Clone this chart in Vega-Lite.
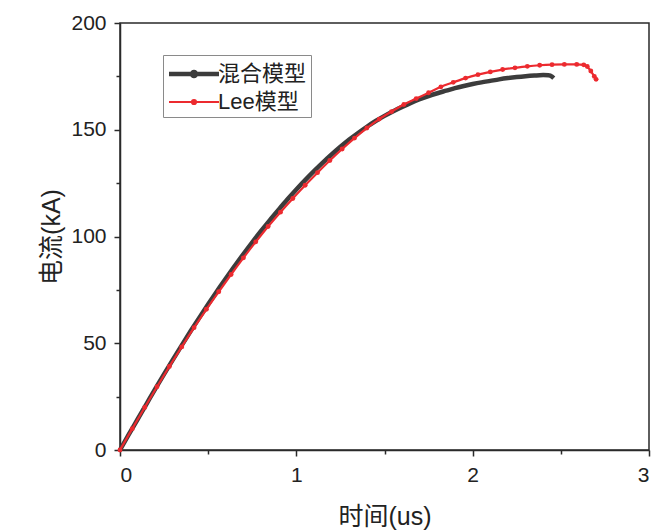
{
  "$schema": "https://vega.github.io/schema/vega-lite/v6.json",
  "width": 529,
  "height": 427,
  "autosize": {"type": "none"},
  "padding": {"left": 120, "top": 23, "right": 10, "bottom": 81},
  "background": "white",
  "config": {
    "font": "Liberation Sans, Noto Sans CJK SC",
    "view": {"stroke": "#2a2a2a", "strokeWidth": 1.5},
    "axis": {
      "domainColor": "#2a2a2a",
      "domainWidth": 1.5,
      "tickColor": "#2a2a2a",
      "tickWidth": 1.5,
      "grid": false,
      "labelFont": "Liberation Sans",
      "labelFontSize": 21,
      "labelColor": "#222222",
      "titleFont": "Liberation Sans, Noto Sans CJK SC",
      "titleFontSize": 25,
      "titleFontWeight": "normal",
      "titleColor": "#222222"
    }
  },
  "data": {
    "values": [
      {"t": 0, "I": 0, "model": "混合模型"},
      {"t": 0.05, "I": 7.3, "model": "混合模型"},
      {"t": 0.1, "I": 14.4, "model": "混合模型"},
      {"t": 0.15, "I": 21.5, "model": "混合模型"},
      {"t": 0.2, "I": 28.6, "model": "混合模型"},
      {"t": 0.25, "I": 35.5, "model": "混合模型"},
      {"t": 0.3, "I": 42.3, "model": "混合模型"},
      {"t": 0.35, "I": 49.0, "model": "混合模型"},
      {"t": 0.4, "I": 55.6, "model": "混合模型"},
      {"t": 0.45, "I": 62.0, "model": "混合模型"},
      {"t": 0.5, "I": 68.3, "model": "混合模型"},
      {"t": 0.55, "I": 74.4, "model": "混合模型"},
      {"t": 0.6, "I": 80.3, "model": "混合模型"},
      {"t": 0.65, "I": 86.1, "model": "混合模型"},
      {"t": 0.7, "I": 91.8, "model": "混合模型"},
      {"t": 0.75, "I": 97.3, "model": "混合模型"},
      {"t": 0.8, "I": 102.6, "model": "混合模型"},
      {"t": 0.85, "I": 107.7, "model": "混合模型"},
      {"t": 0.9, "I": 112.6, "model": "混合模型"},
      {"t": 0.95, "I": 117.4, "model": "混合模型"},
      {"t": 1.0, "I": 122.0, "model": "混合模型"},
      {"t": 1.05, "I": 126.4, "model": "混合模型"},
      {"t": 1.1, "I": 130.6, "model": "混合模型"},
      {"t": 1.15, "I": 134.6, "model": "混合模型"},
      {"t": 1.2, "I": 138.4, "model": "混合模型"},
      {"t": 1.25, "I": 142.0, "model": "混合模型"},
      {"t": 1.3, "I": 145.4, "model": "混合模型"},
      {"t": 1.35, "I": 148.5, "model": "混合模型"},
      {"t": 1.4, "I": 151.4, "model": "混合模型"},
      {"t": 1.45, "I": 154.1, "model": "混合模型"},
      {"t": 1.5, "I": 156.5, "model": "混合模型"},
      {"t": 1.55, "I": 158.7, "model": "混合模型"},
      {"t": 1.6, "I": 160.7, "model": "混合模型"},
      {"t": 1.65, "I": 162.6, "model": "混合模型"},
      {"t": 1.7, "I": 164.3, "model": "混合模型"},
      {"t": 1.75, "I": 165.8, "model": "混合模型"},
      {"t": 1.8, "I": 167.1, "model": "混合模型"},
      {"t": 1.85, "I": 168.3, "model": "混合模型"},
      {"t": 1.9, "I": 169.5, "model": "混合模型"},
      {"t": 1.95, "I": 170.5, "model": "混合模型"},
      {"t": 2.0, "I": 171.4, "model": "混合模型"},
      {"t": 2.05, "I": 172.2, "model": "混合模型"},
      {"t": 2.1, "I": 172.9, "model": "混合模型"},
      {"t": 2.15, "I": 173.6, "model": "混合模型"},
      {"t": 2.2, "I": 174.2, "model": "混合模型"},
      {"t": 2.25, "I": 174.7, "model": "混合模型"},
      {"t": 2.3, "I": 175.1, "model": "混合模型"},
      {"t": 2.35, "I": 175.4, "model": "混合模型"},
      {"t": 2.4, "I": 175.6, "model": "混合模型"},
      {"t": 2.43, "I": 175.5, "model": "混合模型"},
      {"t": 2.45, "I": 174.9, "model": "混合模型"},
      {"t": 2.46, "I": 174.2, "model": "混合模型"},
      {"t": 0, "I": 0, "model": "Lee模型"},
      {"t": 0.07, "I": 10.0, "model": "Lee模型"},
      {"t": 0.14, "I": 19.9, "model": "Lee模型"},
      {"t": 0.21, "I": 29.6, "model": "Lee模型"},
      {"t": 0.28, "I": 39.1, "model": "Lee模型"},
      {"t": 0.35, "I": 48.3, "model": "Lee模型"},
      {"t": 0.42, "I": 57.3, "model": "Lee模型"},
      {"t": 0.49, "I": 65.9, "model": "Lee模型"},
      {"t": 0.56, "I": 74.1, "model": "Lee模型"},
      {"t": 0.63, "I": 82.2, "model": "Lee模型"},
      {"t": 0.7, "I": 90.0, "model": "Lee模型"},
      {"t": 0.77, "I": 97.5, "model": "Lee模型"},
      {"t": 0.84, "I": 104.7, "model": "Lee模型"},
      {"t": 0.91, "I": 111.4, "model": "Lee模型"},
      {"t": 0.98, "I": 117.8, "model": "Lee模型"},
      {"t": 1.05, "I": 124.0, "model": "Lee模型"},
      {"t": 1.12, "I": 129.9, "model": "Lee模型"},
      {"t": 1.19, "I": 135.6, "model": "Lee模型"},
      {"t": 1.26, "I": 141.0, "model": "Lee模型"},
      {"t": 1.33, "I": 146.1, "model": "Lee模型"},
      {"t": 1.4, "I": 150.8, "model": "Lee模型"},
      {"t": 1.47, "I": 155.0, "model": "Lee模型"},
      {"t": 1.54, "I": 158.5, "model": "Lee模型"},
      {"t": 1.61, "I": 161.8, "model": "Lee模型"},
      {"t": 1.68, "I": 164.6, "model": "Lee模型"},
      {"t": 1.75, "I": 167.3, "model": "Lee模型"},
      {"t": 1.82, "I": 170.1, "model": "Lee模型"},
      {"t": 1.89, "I": 172.2, "model": "Lee模型"},
      {"t": 1.96, "I": 174.2, "model": "Lee模型"},
      {"t": 2.03, "I": 175.8, "model": "Lee模型"},
      {"t": 2.1, "I": 177.1, "model": "Lee模型"},
      {"t": 2.17, "I": 178.2, "model": "Lee模型"},
      {"t": 2.24, "I": 179.0, "model": "Lee模型"},
      {"t": 2.31, "I": 179.7, "model": "Lee模型"},
      {"t": 2.38, "I": 180.2, "model": "Lee模型"},
      {"t": 2.45, "I": 180.5, "model": "Lee模型"},
      {"t": 2.52, "I": 180.6, "model": "Lee模型"},
      {"t": 2.59, "I": 180.6, "model": "Lee模型"},
      {"t": 2.63, "I": 180.4, "model": "Lee模型"},
      {"t": 2.65, "I": 179.6, "model": "Lee模型"},
      {"t": 2.67, "I": 177.5, "model": "Lee模型"},
      {"t": 2.69, "I": 175.0, "model": "Lee模型"},
      {"t": 2.7, "I": 173.6, "model": "Lee模型"}
    ]
  },
  "encoding": {
    "x": {
      "field": "t",
      "type": "quantitative",
      "scale": {"domain": [0, 3], "nice": false, "zero": false},
      "axis": {
        "title": "时间(us)",
        "values": [0, 0.5, 1, 1.5, 2, 2.5, 3],
        "format": "~g",
        "labelExpr": "datum.value % 1 === 0 ? datum.label : ''",
        "tickSize": {"condition": {"test": "datum.value % 1 === 0", "value": 6}, "value": 4},
        "labelPadding": 8,
        "titlePadding": 19
      }
    },
    "y": {
      "field": "I",
      "type": "quantitative",
      "scale": {"domain": [0, 200], "nice": false},
      "axis": {
        "title": "电流(kA)",
        "values": [0, 25, 50, 75, 100, 125, 150, 175, 200],
        "labelExpr": "datum.value % 50 === 0 ? datum.label : ''",
        "tickSize": {"condition": {"test": "datum.value % 50 === 0", "value": 6}, "value": 4},
        "labelPadding": 8,
        "titlePadding": 6
      }
    }
  },
  "layer": [
    {
      "mark": {"type": "line", "interpolate": "monotone"},
      "encoding": {
        "color": {
          "field": "model",
          "type": "nominal",
          "sort": ["混合模型", "Lee模型"],
          "scale": {"domain": ["混合模型", "Lee模型"], "range": ["#3c3c3c", "#ec2a2f"]},
          "legend": {
            "title": null,
            "orient": "none",
            "legendX": 43,
            "legendY": 32,
            "strokeColor": "#8a8a8a",
            "fillColor": "white",
            "padding": 4,
            "labelFont": "Liberation Sans, Noto Sans CJK SC",
            "labelFontSize": 22,
            "labelColor": "#222222",
            "labelOffset": 9,
            "symbolOffset": 12,
            "rowPadding": 3,
            "symbolType": "M-2,0L2,0M-0.16,0A0.16,0.16,0,1,0,0.16,0A0.16,0.16,0,1,0,-0.16,0",
            "symbolSize": 625,
            "encode": {
              "symbols": {"update": {"fill": {"scale": "color", "field": "value"}, "strokeWidth": {"value": 3}}}
            }
          }
        },
        "strokeWidth": {
          "field": "model",
          "type": "nominal",
          "scale": {"domain": ["混合模型", "Lee模型"], "range": [4.5, 2.2]},
          "legend": null
        }
      }
    },
    {
      "transform": [{"filter": "datum.model === 'Lee模型'"}],
      "mark": {"type": "point", "filled": true, "opacity": 1, "size": 24, "color": "#ec2a2f"},
      "encoding": {}
    }
  ]
}
